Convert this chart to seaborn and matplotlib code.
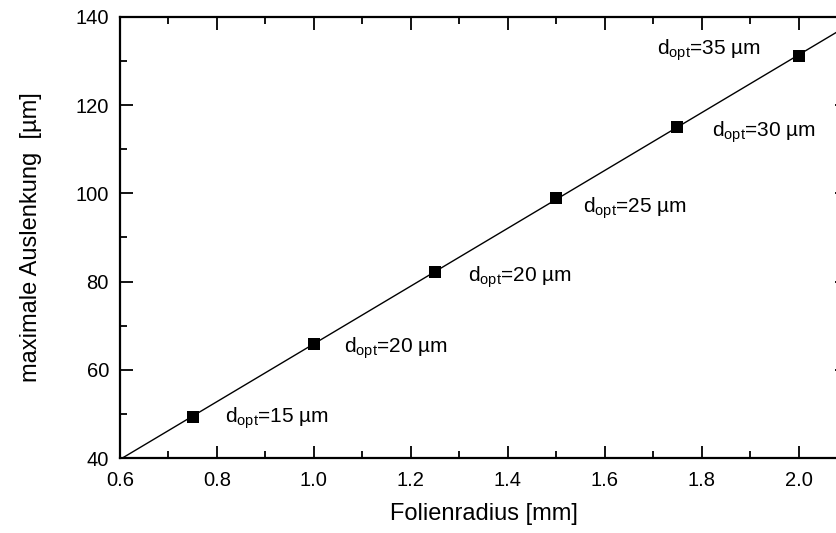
import numpy as np
import pandas as pd
import matplotlib
matplotlib.use("Agg")
import matplotlib.pyplot as plt
import seaborn as sns
from matplotlib.ticker import MultipleLocator

# Data
radius = [0.75, 1.0, 1.25, 1.5, 1.75, 2.0]
deflection = [49.4, 65.9, 82.2, 98.9, 115.1, 131.2]
d_opt = [15, 20, 20, 25, 30, 35]
label_x = [0.817, 1.062, 1.317, 1.556, 1.822, 1.709]
label_y = [47.9, 63.8, 79.9, 95.6, 112.8, 131.4]
xtick_labels = ["0.6", "0.8", "1.0", "1.2", "1.4", "1.6", "1.8", "2.0"]

sns.set_theme(style="white")
plt.rcParams['font.family'] = ['Liberation Sans', 'DejaVu Sans']
plt.rcParams['mathtext.fontset'] = 'custom'
plt.rcParams['mathtext.rm'] = 'Liberation Sans'
plt.rcParams['mathtext.it'] = 'Liberation Sans'

fig = plt.figure(figsize=(8.37, 5.33), dpi=100)
ax = fig.add_axes([120/837, 75/533, 727/837, 441/533])

df = pd.DataFrame({"r": radius, "d": deflection})
coef = np.polyfit(radius, deflection, 1)
xf = np.array([0.6, 2.1])
fit = pd.DataFrame({"r": xf, "d": np.polyval(coef, xf)})

sns.lineplot(data=fit, x="r", y="d", color="black", linewidth=1.0, ax=ax)
sns.scatterplot(data=df, x="r", y="d", marker="s", color="black", s=75,
                edgecolor="black", linewidth=0, ax=ax, zorder=3)

for xv, yv, dv in zip(label_x, label_y, d_opt):
    ax.text(xv, yv, r"d$_{\mathrm{opt}}$=" + f"{dv} µm", fontsize=15,
            va="baseline", ha="left", color="black")

ax.set_xlim(0.6, 2.1)
ax.set_ylim(40, 140)
ax.set_xticks([0.6, 0.8, 1.0, 1.2, 1.4, 1.6, 1.8, 2.0])
ax.set_xticklabels(xtick_labels)
ax.xaxis.set_minor_locator(MultipleLocator(0.1))
ax.yaxis.set_major_locator(MultipleLocator(20))
ax.yaxis.set_minor_locator(MultipleLocator(10))
ax.tick_params(which="both", direction="in", top=True, right=True,
               bottom=True, left=True, color="black", width=1.3, labelsize=14.5,
               labelcolor="black")
ax.tick_params(which="major", length=9)
ax.tick_params(which="minor", length=5)
ax.tick_params(axis="x", which="major", pad=9)
ax.tick_params(axis="y", which="major", pad=8)
for sp in ax.spines.values():
    sp.set_color("black")
    sp.set_linewidth(1.6)

ax.set_xlabel("Folienradius [mm]", fontsize=17, color="black", labelpad=10)
ax.set_ylabel("maximale Auslenkung  [µm]", fontsize=17, color="black", labelpad=24)

fig.savefig("out.png", dpi=100)
